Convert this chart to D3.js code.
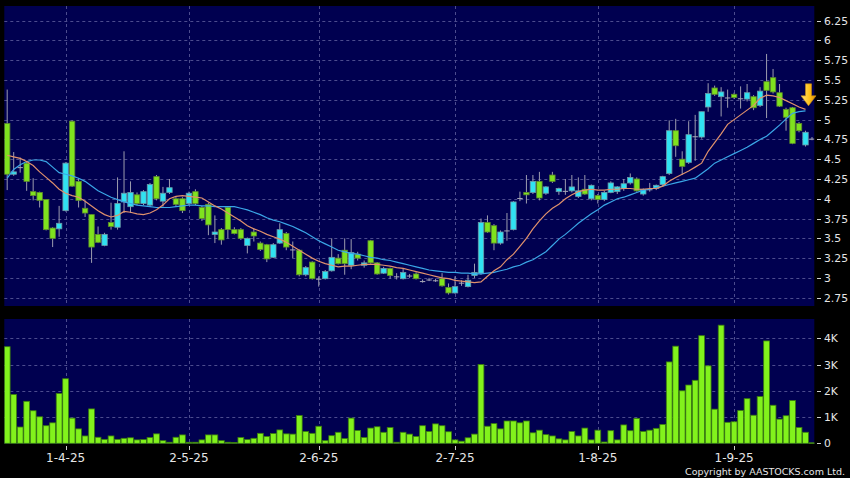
<!DOCTYPE html>
<html><head><meta charset="utf-8">
<script src="https://cdn.jsdelivr.net/npm/d3@7"></script>
<style>html,body{margin:0;padding:0;background:#000;}svg{display:block;}</style>
</head><body>
<svg id="c" width="850" height="478"></svg>
<script>
// ---- DATA ----
const opens  = [4.95,4.31,4.40,4.45,4.09,4.08,3.99,3.63,3.62,3.85, 4.98,4.22,3.88,3.80,3.55,3.41,3.70,3.64,3.96,3.90, 4.05,3.94,3.92,4.28,3.97,4.08,4.00,4.00,3.94,4.09, 3.89,3.93,3.55,3.61,3.89,3.61,3.61,3.41,3.58,3.44, 3.42,3.26,3.44,3.56,3.36,3.35,3.04,3.20,2.99,2.99, 3.09,3.25,3.35,3.16,3.30,3.16,3.47,3.19,3.06,3.12, 3.02,2.99,3.03,3.05,2.96,2.98,2.97,2.99,2.88,2.81, 2.94,2.89,3.03,3.06,3.70,3.66,3.44,3.60,3.61,4.01, 4.08,4.08,4.22,4.07,4.30,4.09,4.10,4.10,4.03,4.12, 4.00,4.04,3.99,4.08,4.09,4.13,4.20,4.25,4.06,4.12, 4.13,4.18,4.32,4.86,4.50,4.46,4.79,4.78,5.16,5.40, 5.29,5.28,5.32,5.27,5.26,5.29,5.18,5.48,5.53,5.34, 5.13,5.15,4.95,4.68,4.76];
const highs  = [5.38,4.59,4.52,4.47,4.26,4.09,3.99,3.64,3.91,4.46, 4.99,4.26,3.98,3.80,3.65,3.57,3.95,4.27,4.60,4.22, 4.08,4.11,4.20,4.30,4.15,4.25,4.02,4.02,4.09,4.12, 3.91,3.95,3.79,3.63,3.90,3.64,3.63,3.51,3.63,3.46, 3.43,3.44,3.69,3.58,3.46,3.36,3.15,3.21,3.02,3.10, 3.50,3.30,3.50,3.49,3.33,3.22,3.48,3.20,3.14,3.13, 3.06,3.12,3.05,3.07,2.98,3.00,2.99,3.06,2.93,3.02, 2.97,3.04,3.18,3.75,3.79,3.68,3.60,3.82,3.97,4.09, 4.30,4.30,4.34,4.16,4.34,4.14,4.25,4.30,4.27,4.30, 4.18,4.06,4.10,4.22,4.16,4.25,4.32,4.27,4.13,4.20, 4.18,4.29,4.99,5.01,4.60,4.98,5.06,5.10,5.46,5.43, 5.41,5.38,5.34,5.42,5.45,5.31,5.41,5.83,5.64,5.45, 5.15,5.16,4.97,4.86,4.78];
const lows   = [4.11,4.29,4.33,4.10,3.98,3.89,3.60,3.39,3.52,3.84, 4.15,3.89,3.77,3.19,3.44,3.40,3.61,3.61,3.82,3.82, 3.92,3.92,3.90,3.98,3.90,4.06,3.91,3.82,3.92,3.92, 3.72,3.54,3.44,3.42,3.50,3.55,3.48,3.31,3.46,3.34, 3.20,3.25,3.43,3.35,3.25,3.02,3.02,2.98,2.89,2.98, 3.08,3.17,3.04,3.11,3.22,3.13,3.18,3.04,3.05,2.99, 2.98,2.98,3.00,2.98,2.94,2.96,2.95,2.89,2.79,2.80, 2.90,2.88,3.00,3.04,3.57,3.35,3.42,3.47,3.60,3.97, 3.94,4.06,3.98,4.05,4.20,4.05,4.05,4.08,4.01,4.05, 3.98,3.94,3.97,4.07,4.06,4.10,4.18,4.09,4.04,4.09, 4.11,4.16,4.30,4.53,4.30,4.44,4.48,4.76,5.10,5.30, 5.04,5.15,5.26,5.14,5.23,5.12,5.16,5.02,5.33,5.16, 4.86,4.69,4.84,4.66,4.74];
const closes = [4.31,4.34,4.40,4.22,4.04,3.98,3.61,3.50,3.69,4.45, 4.16,3.98,3.82,3.39,3.45,3.55,3.65,3.94,4.07,4.08, 3.94,4.09,4.18,4.00,4.07,4.14,3.93,3.85,4.07,3.94, 3.75,3.67,3.58,3.48,3.61,3.56,3.50,3.50,3.53,3.36, 3.24,3.42,3.61,3.39,3.36,3.04,3.13,2.99,2.99,3.08, 3.26,3.18,3.18,3.32,3.25,3.19,3.19,3.05,3.12,3.03, 3.02,3.07,3.03,2.99,2.96,2.98,2.97,2.90,2.81,2.89, 2.94,2.97,3.07,3.70,3.58,3.44,3.58,3.60,3.96,4.01, 4.05,4.22,4.01,4.15,4.22,4.13,4.10,4.15,4.10,4.06, 4.17,3.99,4.08,4.20,4.15,4.19,4.27,4.10,4.12,4.12, 4.17,4.28,4.86,4.67,4.41,4.81,4.79,5.10,5.33,5.32, 5.35,5.28,5.28,5.27,5.34,5.15,5.36,5.37,5.35,5.17, 5.03,4.70,4.86,4.84,4.76];
const volumesK = [3.68,1.86,0.62,1.60,1.24,1.01,0.67,0.78,1.90,2.46, 0.96,0.55,0.28,1.31,0.23,0.15,0.28,0.15,0.19,0.21, 0.13,0.14,0.22,0.36,0.10,0.04,0.23,0.32,0.04,0.04, 0.13,0.32,0.32,0.10,0.04,0.03,0.22,0.14,0.19,0.38, 0.26,0.37,0.51,0.36,0.35,1.06,0.45,0.38,0.65,0.10, 0.29,0.42,0.18,0.96,0.49,0.22,0.58,0.63,0.42,0.60, 0.04,0.42,0.35,0.26,0.67,0.45,0.74,0.67,0.44,0.13, 0.08,0.21,0.35,3.00,0.65,0.75,0.55,0.85,0.85,0.78, 0.85,0.40,0.50,0.33,0.28,0.17,0.13,0.45,0.28,0.58, 0.13,0.50,0.05,0.48,0.13,0.70,0.48,0.95,0.45,0.50, 0.57,0.72,3.10,3.70,2.00,2.22,2.40,4.10,2.95,1.30, 4.50,0.80,0.82,1.25,1.70,1.07,1.78,3.90,1.45,0.92, 1.05,1.63,0.60,0.42,0.02];
const maShort = [4.55,4.53,4.51,4.47,4.42,4.34,4.27,4.20,4.12,4.07, 4.04,4.02,3.97,3.91,3.85,3.80,3.77,3.79,3.84,3.83, 3.81,3.80,3.82,3.86,3.92,4.00,4.03,4.04,4.03,4.02, 4.01,3.96,3.91,3.87,3.82,3.77,3.72,3.66,3.62,3.59, 3.55,3.52,3.49,3.45,3.40,3.35,3.30,3.25,3.21,3.18, 3.16,3.14,3.15,3.15,3.16,3.17,3.17,3.17,3.16,3.15, 3.13,3.12,3.10,3.08,3.06,3.04,3.02,3.00,2.99,2.97, 2.96,2.95,2.94,2.95,3.02,3.09,3.14,3.23,3.30,3.40, 3.50,3.62,3.72,3.81,3.88,3.93,4.00,4.05,4.09,4.11, 4.12,4.11,4.11,4.12,4.12,4.13,4.13,4.12,4.12,4.13, 4.13,4.16,4.22,4.27,4.31,4.35,4.40,4.45,4.60,4.71, 4.82,4.94,5.00,5.06,5.12,5.18,5.27,5.31,5.30,5.28, 5.24,5.20,5.16,5.13,null];
const maLong = [4.26,4.37,4.43,4.47,4.49,4.49,4.47,4.40,4.33,4.31, 4.29,4.26,4.22,4.16,4.10,4.06,4.02,3.99,3.96,3.94, 3.92,3.91,3.90,3.89,3.89,3.89,3.90,3.91,3.92,3.92, 3.91,3.91,3.90,3.90,3.90,3.90,3.88,3.86,3.83,3.80, 3.76,3.73,3.71,3.68,3.65,3.61,3.57,3.52,3.47,3.43, 3.39,3.35,3.33,3.31,3.30,3.28,3.26,3.25,3.23,3.22, 3.20,3.18,3.16,3.14,3.12,3.10,3.09,3.08,3.07,3.07, 3.06,3.06,3.05,3.05,3.06,3.07,3.09,3.11,3.14,3.16, 3.20,3.23,3.28,3.33,3.41,3.49,3.55,3.62,3.69,3.75, 3.81,3.86,3.92,3.96,4.00,4.02,4.05,4.08,4.11,4.12, 4.14,4.16,4.18,4.20,4.22,4.24,4.26,4.32,4.38,4.45, 4.49,4.53,4.57,4.61,4.65,4.70,4.75,4.79,4.86,4.93, 5.01,5.08,5.10,5.11,null];
const dateTickIndex  = [9, 28, 48, 69, 91, 112];
const dateTickLabels = ["1-4-25","2-5-25","2-6-25","2-7-25","1-8-25","1-9-25"];
const priceTicks  = [2.75,3,3.25,3.5,3.75,4,4.25,4.5,4.75,5,5.25,5.5,5.75,6,6.25];
const priceLabels = ["2.75","3","3.25","3.5","3.75","4","4.25","4.5","4.75","5","5.25","5.5","5.75","6","6.25"];
const volTicks  = [0,1,2,3,4];
const volLabels = ["0","1K","2K","3K","4K"];

// ---- LAYOUT ----
const W = 850, H = 478;
const pL = 4.3, pR = 814.3;
const P = {top: 6, bottom: 306};
const V = {top: 319, bottom: 444};
const panelFill = "#000050", gridCol = "#4c4c8e", textCol = "#e6e6e6";
const N = closes.length;

const svg = d3.select("#c");
svg.append("rect").attr("width", W).attr("height", H).attr("fill", "#000");

const x  = d3.scaleLinear().domain([0, N - 1]).range([7.2, 812]);
const y  = d3.scaleLinear().domain([2.75, 6.25]).range([297.7, 20.7]);
const yv = d3.scaleLinear().domain([0, 4]).range([443.3, 338.3]);

const defs = svg.append("defs");
defs.append("clipPath").attr("id", "cp").append("rect")
  .attr("x", pL).attr("y", P.top).attr("width", pR - pL).attr("height", P.bottom - P.top);
defs.append("clipPath").attr("id", "cv").append("rect")
  .attr("x", pL).attr("y", V.top).attr("width", pR - pL).attr("height", V.bottom - V.top);
const grad = defs.append("linearGradient").attr("id", "ag").attr("x1", 0).attr("x2", 1).attr("y1", 0).attr("y2", 0);
grad.append("stop").attr("offset", "0%").attr("stop-color", "#ffe27a");
grad.append("stop").attr("offset", "55%").attr("stop-color", "#ffc21a");
grad.append("stop").attr("offset", "100%").attr("stop-color", "#d98c00");

// panels
svg.append("rect").attr("x", pL).attr("y", P.top).attr("width", pR - pL).attr("height", P.bottom - P.top).attr("fill", panelFill);
svg.append("rect").attr("x", pL).attr("y", V.top).attr("width", pR - pL).attr("height", V.bottom - V.top).attr("fill", panelFill);

// grids
const g = svg.append("g").attr("stroke", gridCol).attr("stroke-width", 1).attr("stroke-dasharray", "3,3").attr("fill", "none");
priceTicks.forEach(p => g.append("line").attr("x1", pL).attr("x2", pR).attr("y1", Math.round(y(p)) + 0.5).attr("y2", Math.round(y(p)) + 0.5));
volTicks.slice(1).forEach(v => g.append("line").attr("x1", pL).attr("x2", pR).attr("y1", Math.round(yv(v)) + 0.5).attr("y2", Math.round(yv(v)) + 0.5));
dateTickIndex.forEach(i => {
  const xx = Math.round(x(i)) + 0.5;
  g.append("line").attr("x1", xx).attr("x2", xx).attr("y1", P.top).attr("y2", P.bottom);
  g.append("line").attr("x1", xx).attr("x2", xx).attr("y1", V.top).attr("y2", V.bottom);
});

// candles
const cg = svg.append("g").attr("clip-path", "url(#cp)");
const idx = d3.range(N);
const bw = 5.4;
cg.selectAll("line.w").data(idx).join("line").attr("class", "w")
  .attr("x1", i => x(i)).attr("x2", i => x(i))
  .attr("y1", i => y(highs[i])).attr("y2", i => y(lows[i]))
  .attr("stroke", "#9c9cae").attr("stroke-width", 1);
cg.selectAll("rect.b").data(idx).join("rect").attr("class", "b")
  .attr("x", i => x(i) - bw / 2).attr("width", bw)
  .attr("y", i => y(Math.max(opens[i], closes[i])))
  .attr("height", i => Math.max(1, Math.abs(y(opens[i]) - y(closes[i]))))
  .attr("fill", i => closes[i] > opens[i] ? "#30e2f2" : (closes[i] < opens[i] ? "#7fe21e" : "#a8a8b8"))
  .attr("stroke", i => closes[i] > opens[i] ? "#6c9aa8" : (closes[i] < opens[i] ? "#5d8a2c" : "none"))
  .attr("stroke-width", 0.8);

// moving averages
const line = d3.line().defined(d => d != null).x((d, i) => x(i)).y(d => y(d));
cg.append("path").datum(maLong).attr("d", line).attr("fill", "none").attr("stroke", "#3aa6e6").attr("stroke-width", 1.2);
cg.append("path").datum(maShort).attr("d", line).attr("fill", "none").attr("stroke", "#e0916c").attr("stroke-width", 1.2);

// arrow marker at the end of the averages
const lastI = N - 2;
const ax = x(lastI) + 3, tipY = y(maShort[lastI]) - 3.5;
svg.append("path")
  .attr("d", `M${ax-3},${tipY-22} L${ax+3},${tipY-22} L${ax+3},${tipY-10} L${ax+7.5},${tipY-10} L${ax},${tipY} L${ax-7.5},${tipY-10} L${ax-3},${tipY-10} Z`)
  .attr("fill", "url(#ag)").attr("stroke", "#c88a10").attr("stroke-width", 0.6);

// volume bars
const vg = svg.append("g").attr("clip-path", "url(#cv)");
vg.selectAll("rect").data(idx).join("rect")
  .attr("x", i => x(i) - 2.9).attr("width", 5.8)
  .attr("y", i => yv(volumesK[i]))
  .attr("height", i => Math.max(0.8, yv(0) - yv(volumesK[i])))
  .attr("fill", "#82f21c").attr("stroke", "#3b7d0e").attr("stroke-width", 0.8);

// right axes
const ax1 = svg.append("g");
priceTicks.forEach((p, k) => {
  const yy = Math.round(y(p)) + 0.5;
  ax1.append("line").attr("x1", 817).attr("x2", 821).attr("y1", yy).attr("y2", yy).attr("stroke", "#cfcfcf");
  ax1.append("text").attr("x", 824).attr("y", yy).attr("dy", "0.35em")
    .attr("fill", textCol).attr("font-family", "DejaVu Sans").attr("font-size", 10.8).text(priceLabels[k]);
});
volTicks.forEach((v, k) => {
  const yy = Math.round(yv(v)) + 0.5;
  ax1.append("line").attr("x1", 817).attr("x2", 821).attr("y1", yy).attr("y2", yy).attr("stroke", "#cfcfcf");
  ax1.append("text").attr("x", 824).attr("y", yy).attr("dy", "0.35em")
    .attr("fill", textCol).attr("font-family", "DejaVu Sans").attr("font-size", 10.8).text(volLabels[k]);
});

// date axis
dateTickIndex.forEach((i, k) => {
  const xx = Math.round(x(i)) + 0.5;
  svg.append("line").attr("x1", xx).attr("x2", xx).attr("y1", 446).attr("y2", 450).attr("stroke", "#cfcfcf");
  svg.append("text").attr("x", x(i)).attr("y", 462).attr("text-anchor", "middle")
    .attr("fill", textCol).attr("font-family", "DejaVu Sans").attr("font-size", 12).text(dateTickLabels[k]);
});

svg.append("text").attr("x", 845).attr("y", 475).attr("text-anchor", "end")
  .attr("fill", textCol).attr("font-family", "DejaVu Sans").attr("font-size", 9.5)
  .text("Copyright by AASTOCKS.com Ltd.");
</script>
</body></html>
